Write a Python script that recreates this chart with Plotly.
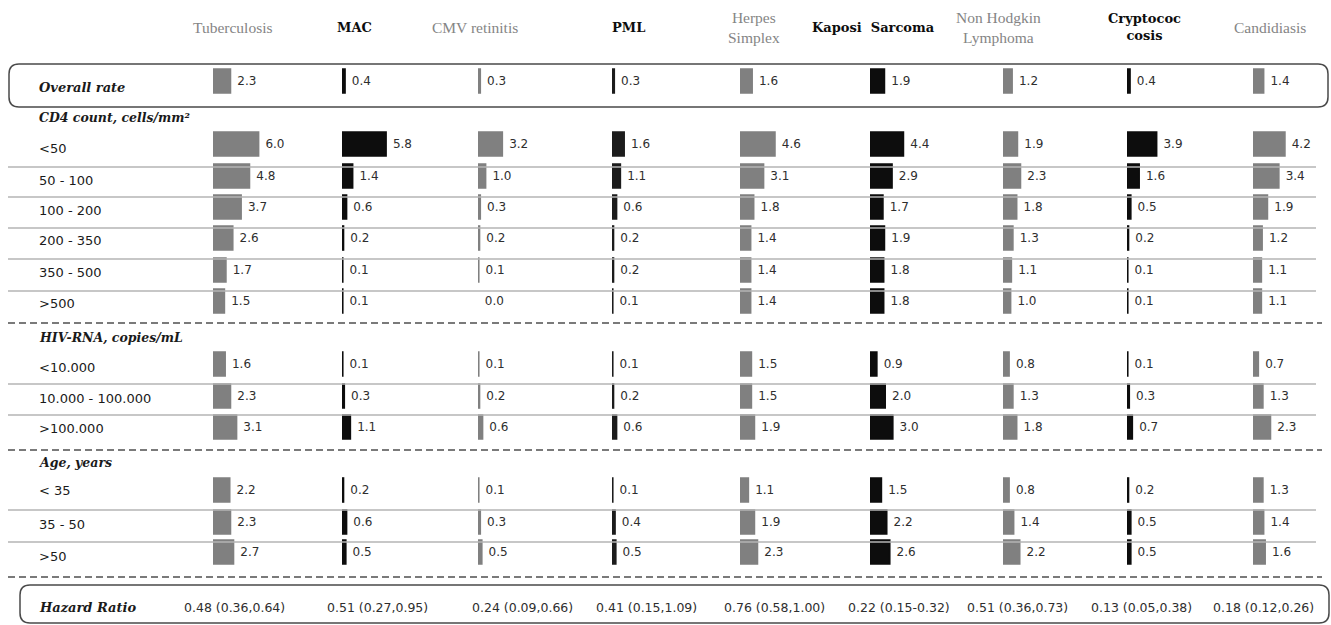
import plotly.graph_objects as go

W, H = 1331, 625

# ---------------- data ----------------
diseases = ["Tuberculosis", "MAC", "CMV retinitis", "PML", "Herpes Simplex",
            "Kaposi Sarcoma", "Non Hodgkin Lymphoma", "Cryptococcosis", "Candidiasis"]
header_labels = ["Tuberculosis", "MAC", "CMV retinitis", "PML", "Herpes<br>Simplex",
                 "Kaposi  Sarcoma", "Non Hodgkin<br>Lymphoma", "Cryptococ<br>cosis", "Candidiasis"]
row_labels = ["Overall rate", "<50", "50 - 100", "100 - 200", "200 - 350", "350 - 500", ">500",
              "<10.000", "10.000 - 100.000", ">100.000", "< 35", "35 - 50", ">50"]
section_titles = ["CD4 count, cells/mm²", "HIV-RNA, copies/mL", "Age, years"]

tuberculosis = [2.3, 6.0, 4.8, 3.7, 2.6, 1.7, 1.5, 1.6, 2.3, 3.1, 2.2, 2.3, 2.7]
mac          = [0.4, 5.8, 1.4, 0.6, 0.2, 0.1, 0.1, 0.1, 0.3, 1.1, 0.2, 0.6, 0.5]
cmv          = [0.3, 3.2, 1.0, 0.3, 0.2, 0.1, 0.0, 0.1, 0.2, 0.6, 0.1, 0.3, 0.5]
pml          = [0.3, 1.6, 1.1, 0.6, 0.2, 0.2, 0.1, 0.1, 0.2, 0.6, 0.1, 0.4, 0.5]
herpes       = [1.6, 4.6, 3.1, 1.8, 1.4, 1.4, 1.4, 1.5, 1.5, 1.9, 1.1, 1.9, 2.3]
kaposi       = [1.9, 4.4, 2.9, 1.7, 1.9, 1.8, 1.8, 0.9, 2.0, 3.0, 1.5, 2.2, 2.6]
nhl          = [1.2, 1.9, 2.3, 1.8, 1.3, 1.1, 1.0, 0.8, 1.3, 1.8, 0.8, 1.4, 2.2]
crypto       = [0.4, 3.9, 1.6, 0.5, 0.2, 0.1, 0.1, 0.1, 0.3, 0.7, 0.2, 0.5, 0.5]
candidiasis  = [1.4, 4.2, 3.4, 1.9, 1.2, 1.1, 1.1, 0.7, 1.3, 2.3, 1.3, 1.4, 1.6]

hazard_ratios = ["0.48 (0.36,0.64)", "0.51 (0.27,0.95)", "0.24 (0.09,0.66)", "0.41 (0.15,1.09)",
                 "0.76 (0.58,1.00)", "0.22 (0.15-0.32)", "0.51 (0.36,0.73)", "0.13 (0.05,0.38)",
                 "0.18 (0.12,0.26)"]

series = [tuberculosis, mac, cmv, pml, herpes, kaposi, nhl, crypto, candidiasis]

# ---------------- layout / style ----------------
GRAY, BLACK = "#808080", "#0d0d0d"
bar_colors = [GRAY, BLACK, GRAY, "#1c1c1c", GRAY, BLACK, GRAY, BLACK, GRAY]
header_bold = [False, True, False, True, False, True, False, True, False]

col_x0 = [213, 342, 478, 612, 740, 870, 1003, 1127, 1253]
header_x = [233, 354, 475, 628, 754, 873, 998, 1144, 1270]
hazard_x = [234, 378, 522, 646, 774, 899, 1017, 1141, 1263]

row_y = [81, 144, 176, 207, 238, 270, 301, 364, 396, 427, 490, 522, 552]
label_y = [87, 149, 180, 210, 241, 272, 303, 367, 398, 428, 490, 524, 556]
section_y = [118, 338, 462]
PX_PER_UNIT = 7.6
COL_W = 70

def px(x):
    return x / W

def py(y):
    return 1 - y / H

fig = go.Figure()
layout_axes = {}
for i, vals in enumerate(series):
    ax_id = i + 2
    fig.add_trace(go.Bar(
        orientation="h", x=vals, y=row_y, xaxis=f"x{ax_id}", yaxis="y", width=24,
        marker=dict(color=bar_colors[i],
                    line=dict(color=bar_colors[i], width=[0 if v == 0 else 1.6 for v in vals])),
        texttemplate="\u00a0%{x:.1f}", textposition="outside", cliponaxis=False,
        textfont=dict(family="DejaVu Sans", size=12, color="#2e2e2e"),
        hoverinfo="skip", showlegend=False, name=diseases[i]))
    layout_axes[f"xaxis{ax_id}"] = dict(domain=[px(col_x0[i]), px(col_x0[i] + COL_W)],
                                        range=[0, COL_W / PX_PER_UNIT], visible=False,
                                        anchor="y", fixedrange=True)

annotations = []
# headers
for i, t in enumerate(header_labels):
    if header_bold[i]:
        f = dict(family="DejaVu Serif, serif", size=13, color=BLACK, weight="bold")
    else:
        f = dict(family="Liberation Serif, serif", size=15.5, color="#858585")
    annotations.append(dict(
        x=px(header_x[i]), y=py(27), xref="paper", yref="paper", text=t, showarrow=False,
        xanchor="center", yanchor="middle", align="center", font=f))
# row labels
for i, t in enumerate(row_labels):
    if i == 0:
        f = dict(family="DejaVu Serif, serif", size=13, color="#1a1a1a", weight="bold", style="italic")
    else:
        f = dict(family="DejaVu Sans", size=13, color="#1a1a1a")
    annotations.append(dict(
        x=px(37), y=py(label_y[i]), xref="paper", yref="paper", text=t, showarrow=False,
        xanchor="left", yanchor="middle", font=f))
for t, y in zip(section_titles, section_y):
    annotations.append(dict(
        x=px(37), y=py(y), xref="paper", yref="paper", text=t, showarrow=False,
        xanchor="left", yanchor="middle",
        font=dict(family="DejaVu Serif, serif", size=12.5, color="#1a1a1a", weight="bold", style="italic")))
# hazard ratio row
annotations.append(dict(
    x=px(37), y=py(607), xref="paper", yref="paper", text="Hazard Ratio", showarrow=False,
    xanchor="left", yanchor="middle",
    font=dict(family="DejaVu Serif, serif", size=13, color="#1a1a1a", weight="bold", style="italic")))
for i, t in enumerate(hazard_ratios):
    annotations.append(dict(
        x=px(hazard_x[i]), y=py(607), xref="paper", yref="paper", text=t, showarrow=False,
        xanchor="center", yanchor="middle",
        font=dict(family="DejaVu Sans", size=12.5, color="#2e2e2e")))

shapes = []

def rounded_box(x0, y0, x1, y1, r):
    X0, X1 = px(x0), px(x1)
    rx = r / W
    ry = r / H
    Y0, Y1 = py(y0), py(y1)
    return (f"M {X0 + rx},{Y0} L {X1 - rx},{Y0} Q {X1},{Y0} {X1},{Y0 - ry} "
            f"L {X1},{Y1 + ry} Q {X1},{Y1} {X1 - rx},{Y1} L {X0 + rx},{Y1} "
            f"Q {X0},{Y1} {X0},{Y1 + ry} L {X0},{Y0 - ry} Q {X0},{Y0} {X0 + rx},{Y0} Z")

shapes.append(dict(type="path", xref="paper", yref="paper", path=rounded_box(9, 64, 1328, 107, 10),
                   line=dict(color="#4a4a4a", width=1.5)))
shapes.append(dict(type="path", xref="paper", yref="paper", path=rounded_box(20, 585, 1329, 623, 10),
                   line=dict(color="#4a4a4a", width=1.5)))

for y in [167, 197, 228, 259, 291, 384, 415, 510, 542]:
    shapes.append(dict(type="line", xref="paper", yref="paper", x0=px(8), x1=px(1316),
                       y0=py(y), y1=py(y), line=dict(color="#b4b4b4", width=1.5)))
for y in [323, 450, 577]:
    shapes.append(dict(type="line", xref="paper", yref="paper", x0=px(8), x1=px(1322),
                       y0=py(y), y1=py(y), line=dict(color="#7a7a7a", width=2, dash="7px,4px")))

fig.update_layout(
    width=W, height=H, margin=dict(l=0, r=0, t=0, b=0),
    paper_bgcolor="white", plot_bgcolor="white", barmode="overlay",
    yaxis=dict(domain=[0, 1], range=[H, 0], visible=False, fixedrange=True),
    annotations=annotations, shapes=shapes, showlegend=False,
    **layout_axes)

fig.write_html("out.html", config={"displayModeBar": False},
               post_script="document.body.style.margin='0';document.body.style.overflow='hidden';")
